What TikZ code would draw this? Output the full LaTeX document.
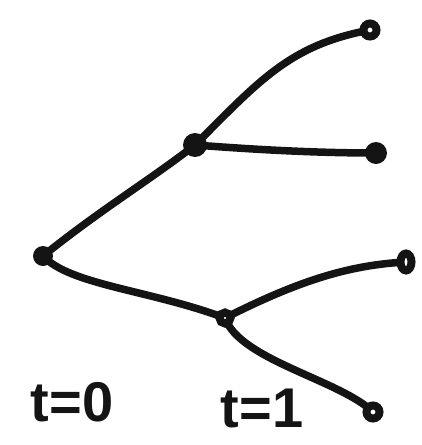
\documentclass[tikz,border=0pt]{standalone}
\usepackage{fontspec}
\usetikzlibrary{shapes.geometric}
\setmainfont{Liberation Sans}
\begin{document}
\begin{tikzpicture}[x=1pt,y=-1pt,
  branch/.style={line width=7.5pt,line cap=round,black!92},
  vert/.style={circle,fill=black!92,minimum size=20pt,inner sep=0pt},
  leaf/.style={circle,draw=black!92,line width=8pt,fill=white,minimum size=13pt,inner sep=0pt},
  dot/.style={circle,fill=black!92,minimum size=24pt,inner sep=0pt},
  lbl/.style={font=\fontsize{56}{56}\selectfont\bfseries,text=black!92,inner sep=0pt}]
\useasboundingbox (0,0) rectangle (421,445);
\coordinate (r) at (43,256);
\coordinate (u) at (195,145);
\coordinate (l) at (225,318);
\coordinate (l1) at (370,30);
\coordinate (l2) at (376,153);
\coordinate (l3) at (406,262);
\coordinate (l4) at (373,412);
\draw[branch] (r) .. controls (100,210) and (150,180) .. (u);
\draw[branch] (u) .. controls (260,80) and (290,45) .. (l1);
\draw[branch] (u) .. controls (260,150) and (320,153) .. (l2);
\draw[branch] (r) .. controls (70,285) and (150,290) .. (l);
\draw[branch] (l) .. controls (300,280) and (350,265) .. (l3);
\draw[branch] (l) .. controls (240,360) and (340,380) .. (l4);
\node[vert] (nr) at (r) {};
\node[dot] (nu) at (u) {};
\node[leaf,minimum size=11pt] (nl) at (l) {};
\node[leaf] (n1) at (l1) {};
\node[vert,minimum size=22pt] (n2) at (l2) {};
\node[leaf,ellipse,minimum width=11pt,minimum height=17pt] (n3) at (l3) {};
\node[leaf] (n4) at (l4) {};
\node[lbl] (t0) at (72,402) {t=0};
\node[lbl] (t1) at (262,408) {t=1};
\end{tikzpicture}
\end{document}
